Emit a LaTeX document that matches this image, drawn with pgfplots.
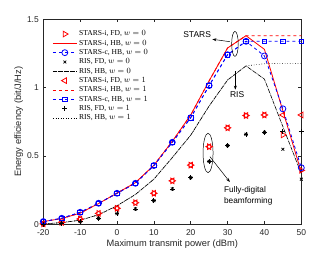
\documentclass[border=0pt]{standalone}
\usepackage{pgfplots}
\pgfplotsset{compat=1.18}
\usepackage{fontspec}
\setmainfont{Liberation Sans}
\newfontfamily\legfont{Liberation Serif}
\usetikzlibrary{arrows.meta}
\definecolor{axgray}{RGB}{38,38,38}
\begin{document}
\begin{tikzpicture}
\begin{axis}[
  at={(0,0)}, anchor=south west,
  scale only axis, width=258bp, height=205bp,
  xmin=-20, xmax=50, ymin=0, ymax=1.5,
  xtick={-20,-10,...,50}, ytick={0,0.5,1,1.5},
  yticklabels={0,0.5,1,1.5},
  tick align=inside, tick pos=both,
  major tick length=3bp,
  axis line style={axgray, line width=0.5pt},
  every tick/.style={axgray, line width=0.5pt},
  tick label style={font=\fontsize{8.5}{10}\selectfont, text=axgray},
  xticklabel style={yshift=-2pt},
  yticklabel style={xshift=-1pt},
  /pgf/number format/assume math mode=true,
  xlabel={Maximum transmit power (dBm)},
  ylabel={Energy efficiency (bit/J/Hz)},
  label style={font=\fontsize{9.3}{11}\selectfont, text=axgray},
  xlabel style={yshift=3pt},
  ylabel style={yshift=-3pt},
  legend cell align=left,
  legend style={draw=none, fill=none, at={(0.035,0.955)}, anchor=north west,
    font=\legfont\fontsize{7.6}{8}\selectfont, row sep=-1.3pt, inner sep=0pt},
  legend image code/.code={\draw[mark repeat=2,mark phase=2,#1] plot coordinates {(0cm,0cm)(0.42cm,0cm)(0.84cm,0cm)};},
]
% STARS-i FD w=0
\addplot[only marks, red, mark=triangle, mark size=3.3pt, mark options={rotate=-90, line width=0.8pt}] coordinates {
(-20,0.003)(-15,0.015)(-10,0.039)(-5,0.08)(0,0.117)(5,0.158)(10,0.227)(15,0.318)(20,0.433)(25,0.568)(30,0.706)(35,0.796)(40,0.800)(45,0.654)(50,0.395)};
\addlegendentry{STARS-i, FD, $w=0$}
% STARS-i HB w=0
\addplot[red, line width=0.8pt] coordinates {
(-20,0.02)(-15,0.042)(-10,0.082)(-5,0.152)(0,0.228)(5,0.305)(10,0.432)(15,0.607)(20,0.80)(25,1.05)(30,1.29)(35,1.38)(40,1.28)(45,0.83)(50,0.38)};
\addlegendentry{STARS-i, HB, $w=0$}
% STARS-c HB w=0
\addplot[blue, dashed, line width=0.8pt, mark=o, mark size=3pt, mark options={solid, line width=0.8pt}] coordinates {
(-20,0.02)(-15,0.044)(-10,0.088)(-5,0.154)(0,0.227)(5,0.300)(10,0.430)(15,0.600)(20,0.780)(25,1.015)(30,1.241)(35,1.339)(40,1.232)(45,0.845)(50,0.414)};
\addlegendentry{STARS-c, HB, $w=0$}
% RIS FD w=0
\addplot[only marks, black, mark=x, mark size=2pt, mark options={line width=0.8pt}] coordinates {
(-20,0.0)(-15,0.007)(-10,0.02)(-5,0.044)(0,0.078)(5,0.112)(10,0.173)(15,0.259)(20,0.341)(25,0.46)(30,0.576)(35,0.659)(40,0.673)(45,0.549)(50,0.33)};
\addlegendentry{RIS, FD, $w=0$}
% RIS HB w=0
\addplot[black, line width=0.6pt, dash pattern=on 4pt off 0.8pt on 0.6pt off 0.8pt] coordinates {
(-20,0.003)(-15,0.012)(-10,0.03)(-5,0.07)(0,0.136)(5,0.218)(10,0.33)(15,0.488)(20,0.652)(25,0.866)(30,1.056)(35,1.159)(40,1.062)(45,0.715)(50,0.37)};
\addlegendentry{RIS, HB, $w=0$}
% STARS-i FD w=1
\addplot[only marks, red, mark=triangle, mark size=3.3pt, mark options={rotate=90, line width=0.8pt}] coordinates {
(-20,0.003)(-15,0.015)(-10,0.039)(-5,0.08)(0,0.117)(5,0.158)(10,0.227)(15,0.318)(20,0.433)(25,0.568)(30,0.706)(35,0.796)(40,0.800)(45,0.800)(50,0.800)};
\addlegendentry{STARS-i, FD, $w=1$}
% STARS-i HB w=1
\addplot[red, dashed, line width=0.8pt] coordinates {
(-20,0.02)(-15,0.042)(-10,0.082)(-5,0.152)(0,0.228)(5,0.305)(10,0.432)(15,0.607)(20,0.80)(25,1.05)(30,1.29)(35,1.38)(40,1.38)(45,1.38)(50,1.38)};
\addlegendentry{STARS-i, HB, $w=1$}
% STARS-c HB w=1
\addplot[blue, dashed, line width=0.8pt, mark=square, mark size=2.3pt, mark options={solid, line width=0.8pt}] coordinates {
(-20,0.02)(-15,0.044)(-10,0.088)(-5,0.154)(0,0.227)(5,0.300)(10,0.430)(15,0.600)(20,0.780)(25,1.015)(30,1.241)(35,1.339)(40,1.339)(45,1.339)(50,1.339)};
\addlegendentry{STARS-c, HB, $w=1$}
% RIS FD w=1
\addplot[only marks, black, mark=+, mark size=2.4pt, mark options={line width=0.8pt}] coordinates {
(-20,0.0)(-15,0.007)(-10,0.02)(-5,0.044)(0,0.078)(5,0.112)(10,0.173)(15,0.259)(20,0.341)(25,0.46)(30,0.576)(35,0.659)(40,0.673)(45,0.677)(50,0.677)};
\addlegendentry{RIS, FD, $w=1$}
% RIS HB w=1
\addplot[black, dotted, line width=0.6pt] coordinates {
(-20,0.003)(-15,0.012)(-10,0.03)(-5,0.07)(0,0.136)(5,0.218)(10,0.33)(15,0.488)(20,0.652)(25,0.866)(30,1.056)(35,1.159)(40,1.175)(45,1.178)(50,1.178)};
\addlegendentry{RIS, HB, $w=1$}
% annotations
\draw[black, line width=0.5pt] (axis cs:32,1.32) ellipse [x radius=3.3bp, y radius=12.5bp];
\draw[black, line width=0.5pt, -{Stealth[length=4pt,width=3pt]}] (axis cs:30.6,1.336) -- (axis cs:25.9,1.354);
\node[anchor=east, font=\fontsize{8.5}{10}\selectfont, inner sep=1pt] at (axis cs:25.8,1.39) {STARS};
\draw[black, line width=0.5pt, -{Stealth[length=4pt,width=3pt]}] (axis cs:32.1,1.12) -- (axis cs:32.1,0.985);
\node[font=\fontsize{8.5}{10}\selectfont, inner sep=1pt] at (axis cs:32.6,0.946) {RIS};
\draw[black, line width=0.5pt] (axis cs:24.7,0.522) ellipse [x radius=5bp, y radius=19.7bp];
\draw[black, line width=0.5pt, -{Stealth[length=4pt,width=3pt]}] (axis cs:25.2,0.495) -- (axis cs:30.6,0.31);
\node[anchor=west, align=left, font=\fontsize{8.3}{11.5}\selectfont, inner sep=0pt] at (axis cs:29.0,0.208) {Fully-digital\\beamforming};
\end{axis}
\pgfresetboundingbox
\path[use as bounding box] (-43.3bp,-28.7bp) rectangle (288.7bp,224.3bp);
\end{tikzpicture}
\end{document}
